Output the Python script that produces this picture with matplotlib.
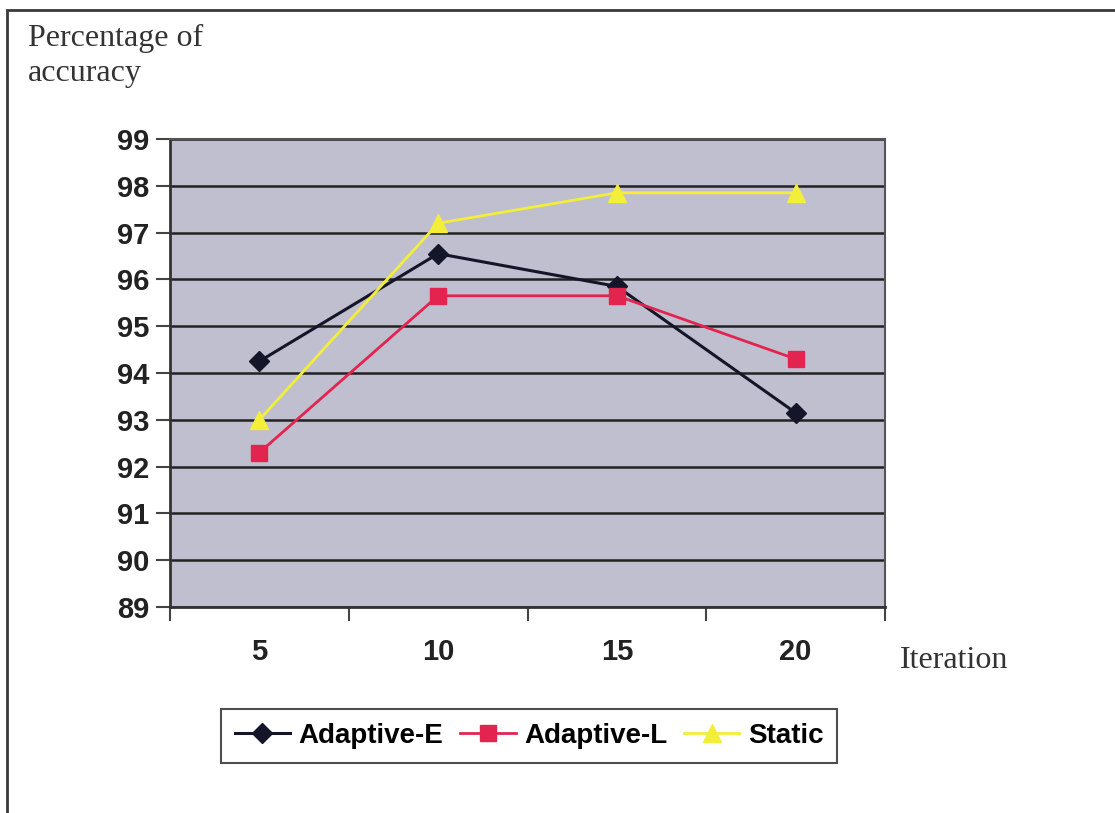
import matplotlib
matplotlib.use("Agg")
import matplotlib.pyplot as plt
from matplotlib.patches import Rectangle

iterations = ["5", "10", "15", "20"]
adaptive_e = [94.25, 96.55, 95.85, 93.15]
adaptive_l = [92.3, 95.65, 95.65, 94.3]
static = [93.0, 97.2, 97.85, 97.85]
y_ticks = list(range(89, 100))

fig = plt.figure(figsize=(11.15, 8.13), dpi=100, facecolor="white")

# chart frame (cropped at right/bottom in the scan)
fig.patches.append(Rectangle((7 / 1115, -0.05), 1.2, 1 - 10 / 813 + 0.05,
                             transform=fig.transFigure, fill=False,
                             edgecolor="#3a3a3a", linewidth=2))

ax = fig.add_axes([170 / 1115, 206 / 813, 715 / 1115, 468 / 813])
ax.set_facecolor("#bfbfd0")

x = range(len(iterations))
ax.plot(x, adaptive_e, color="#15152a", lw=2.2, marker="D", ms=10,
        label="Adaptive-E")
ax.plot(x, adaptive_l, color="#e3244f", lw=2, marker="s", ms=12,
        label="Adaptive-L")
ax.plot(x, static, color="#f2ee3a", lw=2, marker="^", ms=13,
        label="Static")

ax.set_xlim(-0.5, 3.5)
ax.set_ylim(89, 99)
ax.set_yticks(y_ticks)
ax.set_yticklabels([str(v) for v in y_ticks])
ax.yaxis.grid(True, color="#222222", lw=1.8)
ax.set_axisbelow(True)

ax.set_xticks([-0.5, 0.5, 1.5, 2.5, 3.5], minor=False)
ax.set_xticklabels([])
ax.set_xticks(list(x), minor=True)
ax.set_xticklabels(iterations, minor=True)
ax.tick_params(axis="x", which="minor", length=0, pad=22)
ax.tick_params(axis="x", which="major", length=10, width=1.5, color="#444444")
ax.tick_params(axis="y", length=10, width=1.5, color="#444444", pad=5)
for lab in ax.get_xticklabels(minor=True) + ax.get_yticklabels():
    lab.set_fontfamily("Liberation Sans")
    lab.set_fontweight("bold")
    lab.set_fontsize(21)
    lab.set_color("#222222")

for s in ["top", "right"]:
    ax.spines[s].set_color("#555555")
    ax.spines[s].set_linewidth(1.5)
for s in ["left", "bottom"]:
    ax.spines[s].set_color("#333333")
    ax.spines[s].set_linewidth(2)

fig.text(28 / 1115, 1 - 46 / 813, "Percentage of", ha="left",
         va="baseline", fontsize=23, family="Liberation Serif",
         color="#333333")
fig.text(28 / 1115, 1 - 81 / 813, "accuracy", ha="left",
         va="baseline", fontsize=23, family="Liberation Serif",
         color="#333333")
fig.text(900 / 1115, 1 - 668 / 813, "Iteration", ha="left", va="baseline",
         fontsize=23, family="Liberation Serif", color="#333333")

leg = fig.legend(loc="center", bbox_to_anchor=(529 / 1115, 1 - 736 / 813),
                 ncol=3, frameon=True, fancybox=False, handlelength=2.0,
                 handletextpad=0.3, columnspacing=0.6, borderpad=0.5,
                 borderaxespad=0,
                 prop={"family": "Liberation Sans", "weight": "bold",
                       "size": 20})
leg.get_frame().set_edgecolor("#222222")
leg.get_frame().set_linewidth(1.5)

fig.savefig("out.png", dpi=100, facecolor="white")
